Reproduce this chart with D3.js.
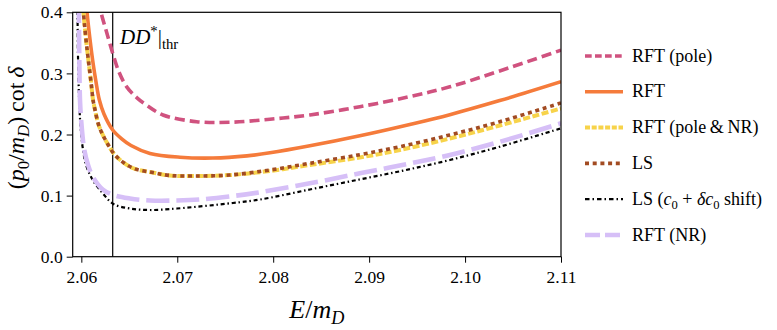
<!DOCTYPE html>
<html lang="en">
<head>
<meta charset="UTF-8">
<title>p cot delta</title>
<script src="https://d3js.org/d3.v7.min.js"></script>
<style>
  body { margin: 0; background: #fff; }
  svg text { font-family: "Liberation Serif", "DejaVu Serif", serif !important; fill: #000; }
</style>
</head>
<body>
<svg id="chart" width="777" height="330" font-family="Liberation Serif, DejaVu Serif, serif"></svg>
<script>
// values: [E/mD, (p0/mD) cot delta]
const xTicks = [2.06, 2.07, 2.08, 2.09, 2.10, 2.11];
const yTicks = [0.0, 0.1, 0.2, 0.3, 0.4];
const threshold = 2.06327;

const rftPole = [[2.06190,0.420],[2.06205,0.4005],[2.06257,0.371],[2.06327,0.333],[2.06393,0.302],
  [2.06473,0.278],[2.06580,0.260],[2.06681,0.248],[2.06851,0.232],[2.07202,0.221],[2.07549,0.220],
  [2.07966,0.225],[2.08382,0.232],[2.08903,0.2455],[2.09424,0.262],[2.09841,0.278],[2.10361,0.304],[2.11,0.338]];

const rft = [[2.06049,0.420],[2.06059,0.4005],[2.06091,0.3547],[2.06122,0.317],[2.06153,0.2859],
  [2.06188,0.2565],[2.06236,0.2336],[2.06327,0.2074],[2.06424,0.1926],[2.06518,0.1820],[2.06716,0.1690],
  [2.07028,0.1628],[2.07372,0.1615],[2.07726,0.1650],[2.07966,0.1700],[2.08382,0.1815],[2.08903,0.1980],
  [2.09424,0.2165],[2.09841,0.2325],[2.10361,0.2555],[2.11,0.2864]];

const rftPoleNR = [[2.06013,0.420],[2.06018,0.407],[2.06049,0.3547],[2.06077,0.317],[2.06101,0.2859],
  [2.06122,0.2565],[2.06143,0.2401],[2.06184,0.2139],[2.06257,0.1894],[2.06361,0.1648],[2.06535,0.1452],
  [2.06744,0.1378],[2.06924,0.1329],[2.07202,0.1321],[2.07549,0.1337],[2.07966,0.1403],[2.08382,0.1501],
  [2.08903,0.1624],[2.09320,0.1746],[2.09841,0.1935],[2.10361,0.2147],[2.11,0.2426]];

const ls = [[2.06013,0.420],[2.06018,0.407],[2.06049,0.3547],[2.06077,0.317],[2.06101,0.2859],
  [2.06122,0.2565],[2.06143,0.2401],[2.06184,0.2139],[2.06257,0.1894],[2.06361,0.1648],[2.06535,0.1452],
  [2.06744,0.1378],[2.06924,0.1329],[2.07202,0.1321],[2.07549,0.1337],[2.07966,0.1419],[2.08382,0.1529],
  [2.08903,0.1670],[2.09320,0.1800],[2.09841,0.1992],[2.10361,0.2209],[2.11,0.2516]];

const lsShift = [[2.05955,0.420],[2.05959,0.4005],[2.05966,0.3219],[2.05979,0.2483],[2.05997,0.2025],
  [2.06018,0.1746],[2.06049,0.1501],[2.06119,0.1255],[2.06223,0.1038],[2.06333,0.0863],[2.06507,0.0789],
  [2.06716,0.0764],[2.06997,0.0789],[2.07580,0.0879],[2.07861,0.0935],[2.08382,0.1100],[2.08903,0.1265],
  [2.09372,0.1415],[2.09841,0.1583],[2.10361,0.1800],[2.11,0.2101]];

const rftNR = [[2.05971,0.420],[2.05974,0.4005],[2.05979,0.3219],[2.05986,0.2565],[2.06002,0.2156],
  [2.06031,0.1746],[2.06070,0.1501],[2.06119,0.1309],[2.06223,0.1100],[2.06333,0.1010],[2.06507,0.0953],
  [2.06716,0.0920],[2.06997,0.0920],[2.07236,0.0936],[2.07580,0.0993],[2.07861,0.1055],[2.08382,0.1201],
  [2.08903,0.1365],[2.09372,0.1509],[2.09841,0.1664],[2.10361,0.1880],[2.11,0.2183]];

// legend labels as rich text parts
const legendLabels = [
  [{t: "RFT (pole)"}],
  [{t: "RFT"}],
  [{t: "RFT (pole\u2009&\u2009NR)"}],
  [{t: "LS"}],
  [{t: "LS ("}, {t: "c", i: true}, {t: "0", sub: true}, {t: " + "}, {t: "\u03B4c", i: true}, {t: "0", sub: true}, {t: " shift)"}],
  [{t: "RFT (NR)"}]
];

const series = [
  {data: rftPole,   color: "#d0527f", width: 3.6, dash: "10,5",        ldash: "6.7,3.3"},
  {data: rft,       color: "#f57b3b", width: 3.6, dash: null,          ldash: null},
  {data: rftPoleNR, color: "#f7d34a", width: 4,   dash: "7,2.5",       ldash: "5,1.7"},
  {data: ls,        color: "#a24b22", width: 3.6, dash: "4,3.7",       ldash: "4,3.7"},
  {data: lsShift,   color: "#000000", width: 2.2, dash: "4,2.8,1.5,2.8", ldash: "4.5,3,1.5,3"},
  {data: rftNR,     color: "#d6bff7", width: 4.6, dash: "23,7",        ldash: "15,5"}
];

const svg = d3.select("#chart");
const plotL = 72.7, plotR = 561, plotT = 12.3, plotB = 256.7;

const x = d3.scaleLinear().domain([2.0591, 2.11]).range([plotL, plotR]);
const y = d3.scaleLinear().domain([0, 0.4]).range([plotB, plotT]);

function rich(sel, parts, size) {
  let shift = 0;
  parts.forEach(p => {
    const ts = sel.append("tspan").text(p.t);
    if (p.i) ts.style("font-style", "italic");
    if (p.sub) {
      ts.attr("font-size", size * 0.7).attr("dy", size * 0.22 - shift);
      shift = size * 0.22;
    } else if (p.sup) {
      ts.attr("font-size", size * 0.7).attr("dy", -size * 0.38 - shift);
      shift = -size * 0.38;
    } else if (shift !== 0) {
      ts.attr("dy", -shift);
      shift = 0;
    }
  });
}

svg.append("clipPath").attr("id", "plot-clip")
  .append("rect").attr("x", plotL).attr("y", plotT).attr("width", plotR - plotL).attr("height", plotB - plotT);

// axes
const xAxis = svg.append("g").attr("transform", `translate(0,${plotB})`)
  .call(d3.axisBottom(x).tickValues(xTicks).tickFormat(d3.format(".2f")).tickSize(6).tickPadding(8));
const yAxis = svg.append("g").attr("transform", `translate(${plotL},0)`)
  .call(d3.axisLeft(y).tickValues(yTicks).tickFormat(d3.format(".1f")).tickSize(6).tickPadding(4));
[xAxis, yAxis].forEach(a => {
  a.attr("font-family", null).attr("font-size", null);
  a.select(".domain").remove();
  a.selectAll("line").attr("stroke", "#000").attr("stroke-width", 1);
  a.selectAll("text").attr("font-size", 17.5);
});

// threshold line
svg.append("line")
  .attr("x1", x(threshold)).attr("x2", x(threshold))
  .attr("y1", plotT).attr("y2", plotB)
  .attr("stroke", "#000").attr("stroke-width", 1.2);

const line = d3.line().x(d => x(d[0])).y(d => y(d[1])).curve(d3.curveCatmullRom.alpha(0.5));
const curves = svg.append("g").attr("clip-path", "url(#plot-clip)");
series.forEach(s => {
  curves.append("path")
    .attr("d", line(s.data))
    .attr("fill", "none")
    .attr("stroke", s.color)
    .attr("stroke-width", s.width)
    .attr("stroke-dasharray", s.dash)
});

// frame
svg.append("rect")
  .attr("x", plotL).attr("y", plotT).attr("width", plotR - plotL).attr("height", plotB - plotT)
  .attr("fill", "none").attr("stroke", "#000").attr("stroke-width", 1.2);

// annotation
const ann = svg.append("text").attr("x", 120).attr("y", 44).attr("font-size", 21);
rich(ann, [{t: "DD", i: true}, {t: "*", sup: true}, {t: "|"}, {t: "thr", sub: true}], 21);

// axis labels
const xl = svg.append("text").attr("x", (plotL + plotR) / 2).attr("y", 318)
  .attr("text-anchor", "middle").attr("font-size", 26);
rich(xl, [{t: "E", i: true}, {t: "/"}, {t: "m", i: true}, {t: "D", i: true, sub: true}], 26);

const yl = svg.append("text").attr("transform", "translate(24,128) rotate(-90)")
  .attr("text-anchor", "middle").attr("font-size", 24);
rich(yl, [{t: "("}, {t: "p", i: true}, {t: "0", sub: true}, {t: "/"}, {t: "m", i: true},
  {t: "D", i: true, sub: true}, {t: ")\u2009cot\u2009"}, {t: "\u03B4", i: true}], 24);

// legend
const legend = svg.append("g");
series.forEach((s, i) => {
  const cy = 56 + 35.8 * i;
  legend.append("line")
    .attr("x1", 585).attr("x2", 623).attr("y1", cy).attr("y2", cy)
    .attr("stroke", s.color).attr("stroke-width", s.width)
    .attr("stroke-dasharray", s.ldash);
  const t = legend.append("text").attr("x", 632).attr("y", cy + 5.5).attr("font-size", 18);
  rich(t, legendLabels[i], 18);
});
</script>
</body>
</html>
